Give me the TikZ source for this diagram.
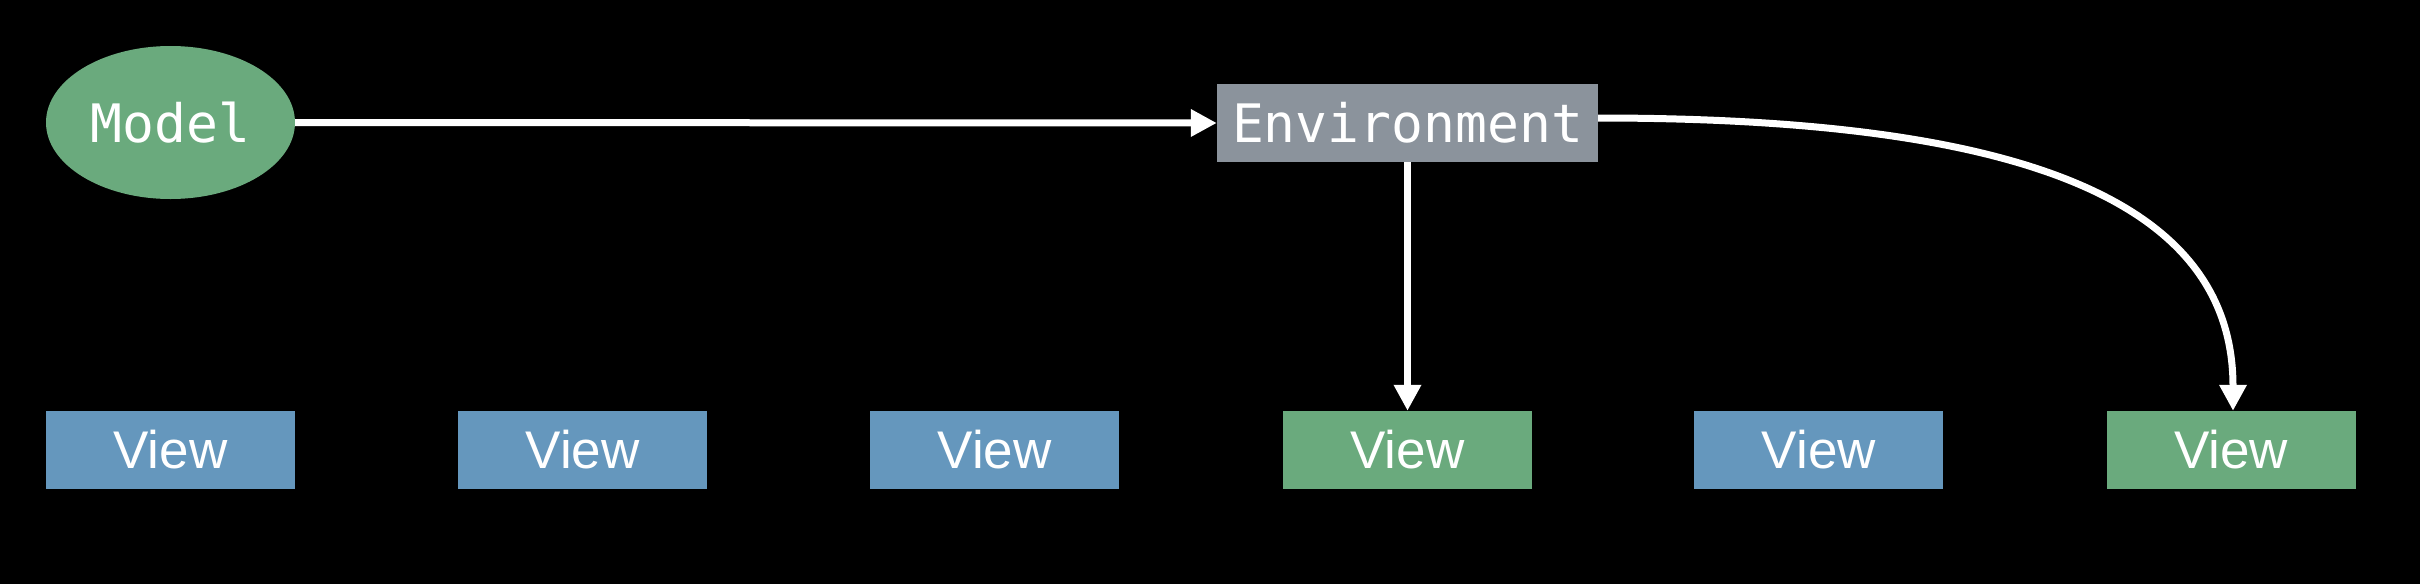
\documentclass[tikz,border=0pt]{standalone}
\usepackage{fontspec}
\setmainfont{Liberation Sans}
\newfontfamily\codefont{DejaVu Sans Mono}
\usetikzlibrary{arrows.meta,shapes.geometric}
\definecolor{mgreen}{RGB}{106,170,125}
\definecolor{vblue}{RGB}{101,151,189}
\definecolor{egrey}{RGB}{139,147,156}
\tikzset{
  viewbox/.style={rectangle, inner sep=0pt, minimum width=249pt, minimum height=78pt, text=white, font=\fontsize{53}{60}\selectfont},
  blueview/.style={viewbox, fill=vblue},
  greenview/.style={viewbox, fill=mgreen},
  modelnode/.style={ellipse, inner sep=0pt, minimum width=249pt, minimum height=153pt, fill=mgreen, text=white, font=\codefont\fontsize{53}{60}\selectfont},
  envnode/.style={rectangle, inner sep=0pt, minimum width=381pt, minimum height=78pt, fill=egrey, text=white, font=\codefont\fontsize{53}{60}\selectfont},
  conn/.style={draw=white, line width=7pt, -{Triangle[length=26pt,width=26pt]}}
}
\begin{document}
\begin{tikzpicture}[x=1pt,y=-1pt]
\fill[black] (0,0) rectangle (2420,584);
\useasboundingbox (0,0) rectangle (2420,584);
\node[modelnode] (model) at (170.5,122.5) {Model};
\node[envnode] (env) at (1407.5,123) {Environment};
\node[blueview] (v1) at (170.5,450) {View};
\node[blueview] (v2) at (582.7,450) {View};
\node[blueview] (v3) at (994.7,450) {View};
\node[greenview] (v4) at (1407.5,450) {View};
\node[blueview] (v5) at (1818.9,450) {View};
\node[greenview] (v6) at (2231,450) {View};
\draw[conn] (model.east) -- (env.west);
\draw[conn] (env.south) -- (v4.north);
\draw[conn] ([yshift=5pt]env.east) .. controls +(400,0) and +(0,-220) .. ([xshift=2pt]v6.north);
\end{tikzpicture}
\end{document}
